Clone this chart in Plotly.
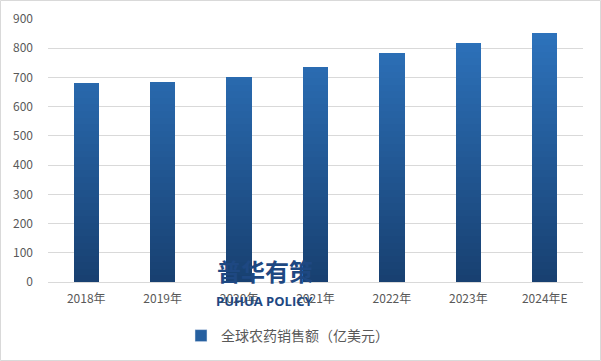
import numpy as np
import plotly.graph_objects as go

categories = ["2018年", "2019年", "2020年", "2021年", "2022年", "2023年", "2024年E"]
sales = [681, 685, 701, 736, 784, 818, 852]
series_name = "全球农药销售额（亿美元）"
y_ticks = [0, 100, 200, 300, 400, 500, 600, 700, 800, 900]

W, H = 601, 361
ML, MR, MT, MB = 48, 18, 19, 79
PW, PH = W - ML - MR, H - MT - MB

top_rgb = np.array([47, 118, 192])
bot_rgb = np.array([24, 64, 112])

fig = go.Figure()
vals = np.array(sales, dtype=float)
n_bands = 40
vmax = 900.0
step = vmax / n_bands
for i in range(n_bands):
    lo = i * step
    seg = np.clip(vals - lo, 0, step)
    t = (lo + step / 2) / vmax
    c = bot_rgb + (top_rgb - bot_rgb) * t
    col = "rgb(%d,%d,%d)" % tuple(c.astype(int))
    fig.add_trace(go.Bar(
        x=categories, y=seg, marker=dict(color=col, line=dict(width=0)),
        showlegend=False, hoverinfo="skip",
    ))

# legend entry
fig.add_trace(go.Bar(
    x=categories, y=[None] * len(categories), name=series_name,
    marker=dict(color="rgb(38,96,160)"), showlegend=True,
))

fig.update_layout(
    width=W, height=H,
    margin=dict(l=ML, r=MR, t=MT, b=MB, autoexpand=False),
    paper_bgcolor="white", plot_bgcolor="white",
    barmode="stack", bargap=0.67,
    font=dict(family="Noto Sans CJK SC, DejaVu Sans, sans-serif", size=12, color="#595959"),
    xaxis=dict(showgrid=False, showline=False, ticks="", ticklabelstandoff=8,
               tickfont=dict(size=12, color="#595959")),
    yaxis=dict(range=[0, 900], tickvals=y_ticks, showgrid=True, gridcolor="#D9D9D9",
               gridwidth=1, zeroline=True, zerolinecolor="#D9D9D9", zerolinewidth=1,
               showline=False, ticks="", ticklabelstandoff=14,
               tickfont=dict(size=12, color="#595959")),
    legend=dict(orientation="h", x=(181 - ML) / PW, xanchor="left",
                yref="container", y=1 - 336 / H, yanchor="middle",
                font=dict(size=14, color="#595959"), itemwidth=30),
    shapes=[dict(type="rect", xref="paper", yref="paper",
                 x0=-(ML - 0.5) / PW, x1=1 + (MR - 0.5) / PW,
                 y0=-(MB - 0.5) / PH, y1=1 + (MT - 0.5) / PH,
                 line=dict(color="#D9D9D9", width=1))],
    annotations=[
        dict(text="<b>普华有策</b>", xref="paper", yref="paper",
             x=(265 - ML) / PW, y=(H - 270 - MB) / PH, xanchor="center", yanchor="middle",
             showarrow=False, font=dict(size=24, color="rgb(30,72,130)",
                                        family="Noto Sans CJK SC, sans-serif")),
        dict(text="<b>PUHUA POLICY</b>", xref="paper", yref="paper",
             x=(265 - ML) / PW, y=(H - 301 - MB) / PH, xanchor="center", yanchor="middle",
             showarrow=False, font=dict(size=13, color="rgb(30,72,130)",
                                        family="Open Sans, sans-serif")),
    ],
)

fig.write_html("out.html")
